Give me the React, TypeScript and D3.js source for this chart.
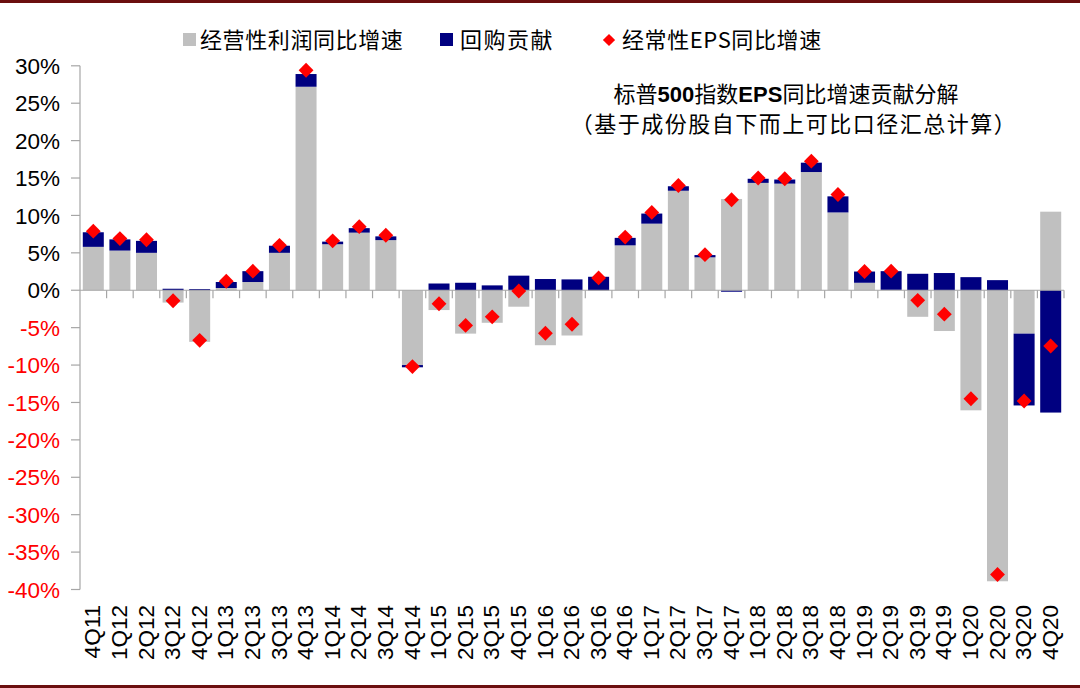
import React from "react";
import * as d3 from "d3";

const categories = [
  "4Q11",
  "1Q12", "2Q12", "3Q12", "4Q12",
  "1Q13", "2Q13", "3Q13", "4Q13",
  "1Q14", "2Q14", "3Q14", "4Q14",
  "1Q15", "2Q15", "3Q15", "4Q15",
  "1Q16", "2Q16", "3Q16", "4Q16",
  "1Q17", "2Q17", "3Q17", "4Q17",
  "1Q18", "2Q18", "3Q18", "4Q18",
  "1Q19", "2Q19", "3Q19", "4Q19",
  "1Q20", "2Q20", "3Q20", "4Q20",
];

// 经营性利润同比增速 (%)
const operatingGrowth = [
  5.8,
  5.3, 5.0, -1.65, -6.9,
  0.3, 1.1, 5.0, 27.2,
  6.15, 7.7, 6.7, -10.0,
  -2.65, -5.8, -4.35, -2.2,
  -7.35, -6.05, -0.1, 6.0,
  8.9, 13.3, 4.4, 12.2,
  14.35, 14.25, 15.8, 10.4,
  1.0, 0.05, -3.55, -5.45,
  -16.05, -38.9, -5.8, 10.5,
];

// 回购贡献 (%)
const buybackContribution = [
  1.95,
  1.5, 1.6, 0.2, 0.15,
  0.8, 1.45, 0.95, 1.7,
  0.35, 0.6, 0.5, -0.3,
  0.9, 1.0, 0.65, 1.95,
  1.5, 1.45, 1.8, 1.0,
  1.35, 0.6, 0.3, -0.2,
  0.55, 0.55, 1.25, 2.15,
  1.5, 2.5, 2.2, 2.3,
  1.75, 1.35, -9.6, -16.35,
];

// 经常性EPS同比增速 (%)
const epsGrowth = [
  7.9,
  6.9, 6.75, -1.4, -6.7,
  1.2, 2.55, 6.0, 29.4,
  6.6, 8.5, 7.35, -10.2,
  -1.8, -4.7, -3.55, -0.1,
  -5.75, -4.55, 1.65, 7.1,
  10.4, 14.0, 4.75, 12.1,
  15.0, 14.9, 17.25, 12.8,
  2.5, 2.55, -1.35, -3.2,
  -14.5, -38.0, -14.8, -7.45,
];

const yTicks = [30, 25, 20, 15, 10, 5, 0, -5, -10, -15, -20, -25, -30, -35, -40];

const seriesKeys = ["operating", "buyback"];
const seriesNames = ["经营性利润同比增速", "回购贡献", "经常性EPS同比增速"];

const W = 1080;
const H = 688;
const X0 = 80;
const X1 = 1064;
const Y_TOP = 65.8;
const Y_BOT = 589.5;

const GRAY = "#C0C0C0";
const NAVY = "#000080";
const RED = "#FF0000";
const AXIS = "#A6A6A6";
const LATIN = "Liberation Sans, Arial, sans-serif";
const CJK = "'Noto Sans CJK SC', 'Noto Sans', sans-serif";

export default function App() {
  const rows = categories.map((c, i) => ({
    cat: c,
    operating: operatingGrowth[i],
    buyback: buybackContribution[i],
  }));

  const x = d3
    .scaleBand<string>()
    .domain(categories)
    .range([X0, X1])
    .paddingInner(0.21)
    .paddingOuter(0.105);
  const y = d3.scaleLinear().domain([-40, 30]).range([Y_BOT, Y_TOP]);

  const stacked = d3
    .stack<any>()
    .keys(seriesKeys)
    .offset(d3.stackOffsetDiverging)(rows);

  const colors = [GRAY, NAVY];
  const step = x.step();
  const diamond = d3.symbol().type(d3.symbolSquare).size(110)();
  const legendDiamond = d3.symbol().type(d3.symbolSquare).size(75)();

  return (
    <svg
      width={W}
      height={H}
      style={{ position: "absolute", left: 0, top: 0, background: "#fff" }}
    >
      <rect x={0} y={0} width={W} height={H} fill="#fff" />
      {/* borders */}
      <rect x={0} y={0} width={W} height={3} fill="#6B0F0F" />
      <rect x={0} y={685} width={W} height={3} fill="#6B0F0F" />

      {/* bars */}
      {stacked.map((s, si) => (
        <g key={s.key} fill={colors[si]}>
          {s.map((d, i) => {
            const top = y(Math.max(d[0], d[1]));
            const bot = y(Math.min(d[0], d[1]));
            return (
              <rect
                key={i}
                x={x(categories[i])}
                y={top}
                width={x.bandwidth()}
                height={Math.max(0, bot - top)}
              />
            );
          })}
        </g>
      ))}

      {/* y axis */}
      <line x1={X0} x2={X0} y1={Y_TOP} y2={Y_BOT} stroke={AXIS} strokeWidth={1.2} />
      {yTicks.map((t) => (
        <g key={t}>
          <line x1={X0 - 9} x2={X0} y1={y(t)} y2={y(t)} stroke={AXIS} strokeWidth={1.2} />
          <text
            x={60}
            y={y(t)}
            dy="0.36em"
            textAnchor="end"
            fontFamily={LATIN}
            fontSize={22.5}
            fill={t < 0 ? RED : "#000"}
          >
            {t}%
          </text>
        </g>
      ))}

      {/* zero axis */}
      <line x1={X0} x2={X1} y1={y(0)} y2={y(0)} stroke={AXIS} strokeWidth={1.2} />
      {categories.map((c, i) => (
        <line
          key={"t" + c}
          x1={X0 + step * (i + 1)}
          x2={X0 + step * (i + 1)}
          y1={y(0)}
          y2={y(0) + 8}
          stroke={AXIS}
          strokeWidth={1.2}
        />
      ))}

      {/* diamonds */}
      {epsGrowth.map((v, i) => (
        <path
          key={"d" + i}
          d={diamond || ""}
          fill={RED}
          transform={`translate(${(x(categories[i]) || 0) + x.bandwidth() / 2},${y(v)}) rotate(45)`}
        />
      ))}

      {/* x labels */}
      {categories.map((c) => (
        <text
          key={"l" + c}
          transform={`translate(${(x(c) || 0) + x.bandwidth() / 2 - 1},605) rotate(-90)`}
          dy="0.36em"
          textAnchor="end"
          fontFamily={LATIN}
          fontSize={22.5}
          fill="#000"
        >
          {c}
        </text>
      ))}

      {/* legend */}
      <rect x={183} y={33} width={13} height={13} fill={GRAY} />
      <text x={200} y={48} fontFamily={CJK} fontSize={22} letterSpacing={0.6} fill="#000">
        {seriesNames[0]}
      </text>
      <rect x={440} y={33} width={13} height={13} fill={NAVY} />
      <text x={460} y={48} fontFamily={CJK} fontSize={22} letterSpacing={1.5} fill="#000">
        {seriesNames[1]}
      </text>
      <path d={legendDiamond || ""} fill={RED} transform="translate(609,40) rotate(45)" />
      <text x={622} y={48} fontFamily={CJK} fontSize={22} letterSpacing={0.6} fill="#000">
        {seriesNames[2]}
      </text>

      {/* title */}
      <text x={786} y={102} textAnchor="middle" fontFamily={CJK} fontSize={22} fill="#000">
        标普
        <tspan fontFamily={LATIN} fontWeight="bold">500</tspan>
        指数
        <tspan fontFamily={LATIN} fontWeight="bold">EPS</tspan>
        同比增速贡献分解
      </text>
      <text x={794} y={132} textAnchor="middle" fontFamily={CJK} fontSize={22} letterSpacing={1.5} fill="#000">
        （基于成份股自下而上可比口径汇总计算）
      </text>
    </svg>
  );
}
